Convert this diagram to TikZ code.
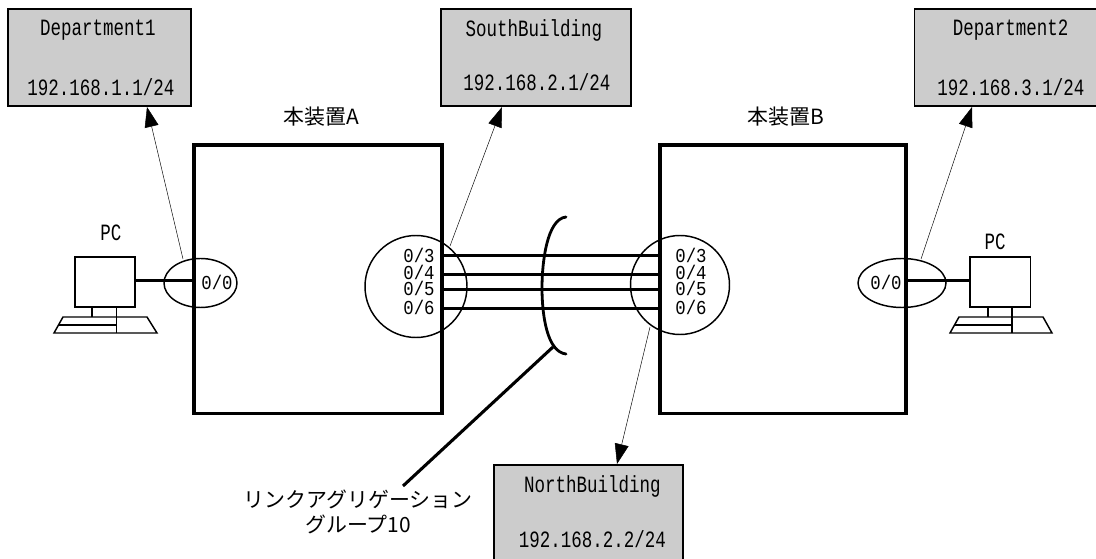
\documentclass[tikz,border=0pt]{standalone}
\usepackage{fontspec}
\setmonofont[FakeStretch=0.75]{Liberation Mono}
\newfontfamily\portfont[FakeStretch=0.88]{Liberation Mono}
\newfontfamily\jpfont{Noto Sans CJK JP}
\newcommand{\mylabel}{\fontsize{17.5}{20}\selectfont\ttfamily}
\usetikzlibrary{arrows.meta}
\tikzset{
  x=0.75pt,y=-0.75pt,
  graybox/.style={draw=black,line width=1.3pt,fill=black!20,inner sep=0pt,outer sep=0pt},
  devbox/.style={draw=black,line width=2.4pt,inner sep=0pt,outer sep=0pt},
  port/.style={draw=black,line width=1.1pt,inner sep=0pt},
  lbl/.style={inner sep=0pt,anchor=base,font=\mylabel},
  portlbl/.style={inner sep=0pt,anchor=base,font=\fontsize{14.8}{17}\selectfont\portfont},
  jp/.style={inner sep=0pt,font=\fontsize{15.7}{18}\selectfont\jpfont},
  thin link/.style={line width=0.35pt,-{Triangle[length=15pt,width=10.5pt]}},
  thick link/.style={line width=2pt},
  pcline/.style={line width=1.1pt},
}
\begin{document}
\begin{tikzpicture}
\useasboundingbox (0,0) rectangle (1096,559);
% gray boxes
\node[graybox,minimum width=137pt,minimum height=73pt,anchor=north west] (d1) at (8,9) {};
\node[graybox,minimum width=142.5pt,minimum height=73pt,anchor=north west] (sb) at (441,9) {};
\node[graybox,minimum width=137pt,minimum height=73pt,anchor=north west] (d2) at (914.5,9) {};
\node[graybox,minimum width=142pt,minimum height=72pt,anchor=north west] (nb) at (494,465) {};
\node[lbl] (d1a) at (98,36) {Department1};
\node[lbl] (d1b) at (101,96) {192.168.1.1/24};
\node[lbl] (sba) at (534,36.5) {SouthBuilding};
\node[lbl] (sbb) at (537,91) {192.168.2.1/24};
\node[lbl] (d2a) at (1010.5,36) {Department2};
\node[lbl] (d2b) at (1011,96) {192.168.3.1/24};
\node[lbl] (nba) at (592.5,492) {NorthBuilding};
\node[lbl] (nbb) at (592.5,547) {192.168.2.2/24};
% devices
\node[devbox,minimum width=186pt,minimum height=201.5pt,anchor=north west] (a) at (194,145) {};
\node[devbox,minimum width=184.5pt,minimum height=201.5pt,anchor=north west] (b) at (660,145) {};
\node[jp] (at) at (321,117) {本装置A};
\node[jp] (bt) at (786,117) {本装置B};
% port shapes
\draw[port] (200.5,283) ellipse (36.5 and 24.5);
\coordinate (e1) at (183,259);
\draw[port] (902,283) ellipse (44 and 24.5);
\coordinate (e2) at (921,259);
\draw[port] (416,286.5) circle (51);
\coordinate (c1) at (450,246);
\draw[port] (680,285) circle (49.5);
\coordinate (c2) at (650,327);
% arrows
\draw[thin link] (e1) -- (147,107);
\draw[thin link] (c1) -- (502,107);
\draw[thin link] (e2) -- (972,107);
\draw[thin link] (c2) -- (617,464);
% aggregated links
\foreach \n/\yy/\bl in {3/255.5/263,4/274.5/280,5/289.5/296,6/308.5/315}{
  \coordinate (la\n) at (442,\yy);
  \coordinate (lb\n) at (660,\yy);
  \draw[thick link] (la\n) -- (lb\n);
  \node[portlbl] (pa\n) at (419,\bl) {0/\n};
  \node[portlbl] (pb\n) at (691,\bl) {0/\n};
}
\node[portlbl] (p0l) at (217,290) {0/0};
\node[portlbl] (p0r) at (886,290) {0/0};
% bracket
\coordinate (br1) at (566,217);
\coordinate (br2) at (566,354);
\draw[line width=2.1pt,line cap=round] (br1) .. controls (547,219) and (542,262) .. (542,288) .. controls (542,315) and (547,352) .. (br2);
\coordinate (lead1) at (553,347);
\coordinate (lead2) at (403,486);
\draw[line width=2.3pt] (lead1) -- (lead2);
\node[jp] (lag1) at (358,499) {リンクアグリゲーション};
\node[jp] (lag2) at (358,524) {グループ10};
% PC left
\node[draw,line width=1.1pt,outer sep=0pt,minimum width=45pt,minimum height=37.5pt,inner sep=0pt,anchor=north west] (pc1) at (75,257) {};
\node[lbl] (pc1t) at (111,241) {PC};
\draw[thick link] (135,280.5) -- (194,280.5);
\draw[pcline] (92,307) -- (92,317);
\draw[pcline] (116.5,307) -- (116.5,333);
\draw[pcline] (63,317) -- (147,317) -- (157,333) -- (54,333) -- cycle;
\draw[pcline] (58.5,325) -- (116.5,325);
% PC right
\node[draw,line width=1.1pt,outer sep=0pt,minimum width=45.5pt,minimum height=37.5pt,inner sep=0pt,anchor=north west] (pc2) at (970,257) {};
\node[lbl] (pc2t) at (995,250) {PC};
\draw[thick link] (906,280.5) -- (970,280.5);
\draw[pcline] (988,307) -- (988,317);
\draw[pcline] (1012,307) -- (1012,333);
\draw[pcline] (959,317) -- (1043,317) -- (1052,333) -- (950,333) -- cycle;
\draw[pcline] (954.5,325) -- (1012,325);
\end{tikzpicture}
\end{document}
